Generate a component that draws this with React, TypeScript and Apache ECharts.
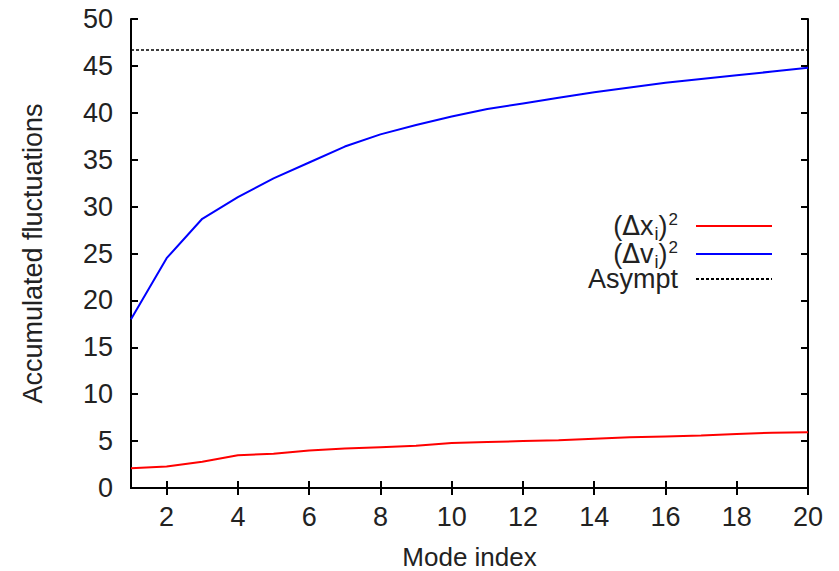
import React, { useEffect, useRef } from "react";
import * as echarts from "echarts";

const modeIndex = [1, 2, 3, 4, 5, 6, 7, 8, 9, 10, 11, 12, 13, 14, 15, 16, 17, 18, 19, 20];
const dxSquared = [2.1, 2.3, 2.8, 3.5, 3.65, 4.0, 4.2, 4.35, 4.5, 4.8, 4.9, 5.0, 5.1, 5.25, 5.4, 5.5, 5.6, 5.75, 5.9, 5.95];
const dvSquared = [18.0, 24.5, 28.7, 31.0, 33.0, 34.7, 36.4, 37.7, 38.7, 39.6, 40.4, 41.0, 41.6, 42.2, 42.7, 43.2, 43.6, 44.0, 44.4, 44.8];
const asymptote = 46.7;
const xTicks = [2, 4, 6, 8, 10, 12, 14, 16, 18, 20];
const yTicks = [0, 5, 10, 15, 20, 25, 30, 35, 40, 45, 50];
const seriesNames = ["dx", "dv", "Asympt"];

const FONT = "Liberation Sans, Arial, sans-serif";
const FS = 27;

export default function App() {
  const ref = useRef<HTMLDivElement>(null);
  useEffect(() => {
    if (!ref.current) return;
    const chart = echarts.init(ref.current, undefined, { renderer: "svg" });
    const axisLine = { show: true, lineStyle: { color: "#000", width: 2 } };
    const tickStyle = { color: "#000", width: 2 };
    const baseX = {
      type: "value" as const,
      min: 1,
      max: 20,
      axisLine,
      splitLine: { show: false },
    };
    const baseY = {
      type: "value" as const,
      min: 0,
      max: 50,
      interval: 5,
      axisLine,
      splitLine: { show: false },
    };
    const legendLabel: Record<string, string> = {
      dx: "{n|(}{d|Δ}{n|x}{sub|i}{n|)}{sup|2}",
      dv: "{n|(}{d|Δ}{n|v}{sub|i}{n|)}{sup|2}",
      Asympt: "{n|Asympt}",
    };
    chart.setOption({
      animation: false,
      textStyle: { fontFamily: FONT },
      grid: { left: 131, right: 31, top: 19, bottom: 83, outerBoundsMode: "none", containLabel: false },
      xAxis: [
        {
          ...baseX,
          position: "bottom",
          name: "Mode index",
          nameLocation: "middle",
          nameGap: 56,
          nameTextStyle: { fontSize: 26, color: "#222", fontFamily: FONT },
          axisTick: { show: true, inside: true, length: 7, lineStyle: tickStyle, customValues: xTicks },
          axisLabel: { show: true, fontSize: FS, color: "#222", margin: 15, fontFamily: FONT, customValues: xTicks },
        },
        {
          ...baseX,
          position: "top",
          axisTick: { show: true, inside: true, length: 7, lineStyle: tickStyle, customValues: xTicks },
          axisLabel: { show: false },
        },
      ],
      yAxis: [
        {
          ...baseY,
          position: "left",
          name: "Accumulated fluctuations",
          nameLocation: "middle",
          nameGap: 85,
          nameTextStyle: { fontSize: FS, color: "#222", fontFamily: FONT },
          axisTick: { show: true, inside: true, length: 7, lineStyle: tickStyle },
          axisLabel: {
            show: true,
            fontSize: FS,
            color: "#222",
            margin: 18,
            fontFamily: FONT,
            formatter: (v: number) => (yTicks.includes(v) ? String(v) : ""),
          },
        },
        {
          ...baseY,
          position: "right",
          axisTick: { show: true, inside: true, length: 7, lineStyle: tickStyle },
          axisLabel: { show: false },
        },
      ],
      legend: {
        orient: "vertical",
        right: 66,
        top: 209,
        align: "right",
        itemWidth: 76,
        itemHeight: 10,
        itemGap: -6,
        padding: 0,
        data: seriesNames,
        itemStyle: { opacity: 0 },
        formatter: (name: string) => legendLabel[name],
        textStyle: {
          fontFamily: FONT,
          fontSize: FS,
          color: "#222",
          lineHeight: 28,
          padding: [0, 13, 0, 0],
          rich: {
            n: { fontSize: FS, color: "#222", fontFamily: FONT, lineHeight: 28 },
            d: { fontSize: FS - 1, color: "#222", fontFamily: "DejaVu Sans", lineHeight: 28 },
            sub: { fontSize: 18, color: "#222", fontFamily: FONT, lineHeight: 12, padding: [16, 0, 0, 1] },
            sup: { fontSize: 17, color: "#222", fontFamily: FONT, lineHeight: 14, padding: [0, 0, 14, 1] },
          },
        },
      },
      series: [
        {
          name: "dx",
          type: "line",
          data: modeIndex.map((x, i) => [x, dxSquared[i]]),
          showSymbol: false,
          symbol: "none",
          lineStyle: { color: "#ff0000", width: 2 },
          itemStyle: { color: "#ff0000" },
        },
        {
          name: "dv",
          type: "line",
          data: modeIndex.map((x, i) => [x, dvSquared[i]]),
          showSymbol: false,
          symbol: "none",
          lineStyle: { color: "#0000ff", width: 2 },
          itemStyle: { color: "#0000ff" },
        },
        {
          name: "Asympt",
          type: "line",
          data: [
            [modeIndex[0], asymptote],
            [modeIndex[modeIndex.length - 1], asymptote],
          ],
          showSymbol: false,
          symbol: "none",
          lineStyle: { color: "#000", width: 1.5, type: [3, 2] },
          itemStyle: { color: "#000" },
        },
      ],
    });
    return () => chart.dispose();
  }, []);
  return (
    <div
      ref={ref}
      style={{ position: "absolute", left: 0, top: 0, width: 839, height: 571 }}
    />
  );
}
